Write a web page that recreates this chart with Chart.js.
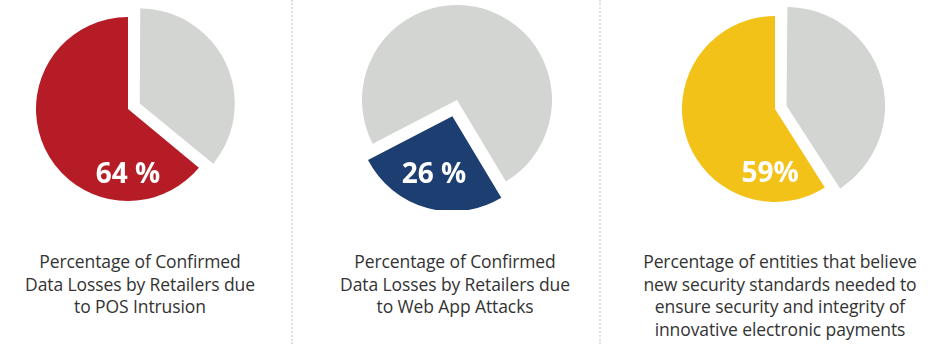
<!DOCTYPE html>
<html>
<head>
<meta charset="utf-8">
<script src="https://cdn.jsdelivr.net/npm/chart.js@4.4.0/dist/chart.umd.min.js"></script>
<style>
    body { margin: 0; background: #fff; width: 928px; height: 344px; position: relative; overflow: hidden; font-family: "Open Sans", Lato, sans-serif; }
    canvas { position: absolute; }
    .sep { position: absolute; top: 0; height: 344px; border-left: 2px dotted #e0e0e0; }
    .cap { position: absolute; top: 250px; text-align: center; font-size: 17.5px; line-height: 22.5px; color: #333; letter-spacing: -0.1px; }
</style>
</head>
<body>
<canvas id="posChart" width="220" height="220" style="left:18px;top:-1px"></canvas>
<canvas id="webChart" width="220" height="220" style="left:347px;top:-10px"></canvas>
<canvas id="payChart" width="220" height="220" style="left:665px;top:-1px"></canvas>
<div class="sep" style="left:291px"></div>
<div class="sep" style="left:599px"></div>
<div class="cap" style="left:-10px;width:300px">Percentage of Confirmed<br>Data Losses by Retailers due<br>to POS Intrusion</div>
<div class="cap" style="left:305px;width:300px">Percentage of Confirmed<br>Data Losses by Retailers due<br>to Web App Attacks</div>
<div class="cap" style="left:620px;width:320px">Percentage of entities that believe<br>new security standards needed to<br>ensure security and integrity of<br>innovative electronic payments</div>
<script>
document.addEventListener('DOMContentLoaded', function() {
    // values
    const posLabels = ['Other', 'POS Intrusion'];
    const posValues = [36, 64];
    const webLabels = ['Web App Attacks', 'Other'];
    const webValues = [26, 74];
    const payLabels = ['Other', 'Believe new standards needed'];
    const payValues = [41, 59];

    const grey = '#d3d5d2';

    // draws the big white percent inside the coloured slice
    const pctLabel = {
        id: 'pctLabel',
        afterDatasetsDraw(chart, args, opts) {
            const arc = chart.getDatasetMeta(0).data[opts.index];
            const ctx = chart.ctx;
            ctx.save();
            ctx.fillStyle = '#fff';
            ctx.font = 'bold 28px "Open Sans", sans-serif';
            ctx.textAlign = 'center';
            ctx.textBaseline = 'middle';
            ctx.fillText(opts.text, arc.x + opts.dx, arc.y + opts.dy);
            ctx.restore();
        }
    };

    function makePie(id, labels, values, colors, offsets, rotation, radius, label) {
        const el = document.getElementById(id);
        if (!el) return;
        new Chart(el, {
            type: 'pie',
            data: {
                labels: labels,
                datasets: [{
                    data: values,
                    backgroundColor: colors,
                    borderWidth: 0,
                    offset: offsets   // chart.js moves an arc by offset / 4
                }]
            },
            options: {
                responsive: false,
                animation: false,
                rotation: rotation,
                radius: radius,
                events: [],
                plugins: {
                    legend: { display: false },
                    tooltip: { enabled: false },
                    pctLabel: label
                }
            },
            plugins: [pctLabel]
        });
    }

    makePie('posChart', posLabels, posValues, [grey, '#b51c26'], [52, 0], 0, 92,
        { index: 1, text: posValues[1] + ' %', dx: 0, dy: 66 });
    makePie('webChart', webLabels, webValues, ['#1c3e70', grey], [68, 0], 149, 95,
        { index: 0, text: webValues[0] + ' %', dx: -23, dy: 75 });
    makePie('payChart', payLabels, payValues, [grey, '#f2c218'], [48, 0], 0, 93,
        { index: 1, text: payValues[1] + '%', dx: -5, dy: 65 });
});
</script>
</body>
</html>
